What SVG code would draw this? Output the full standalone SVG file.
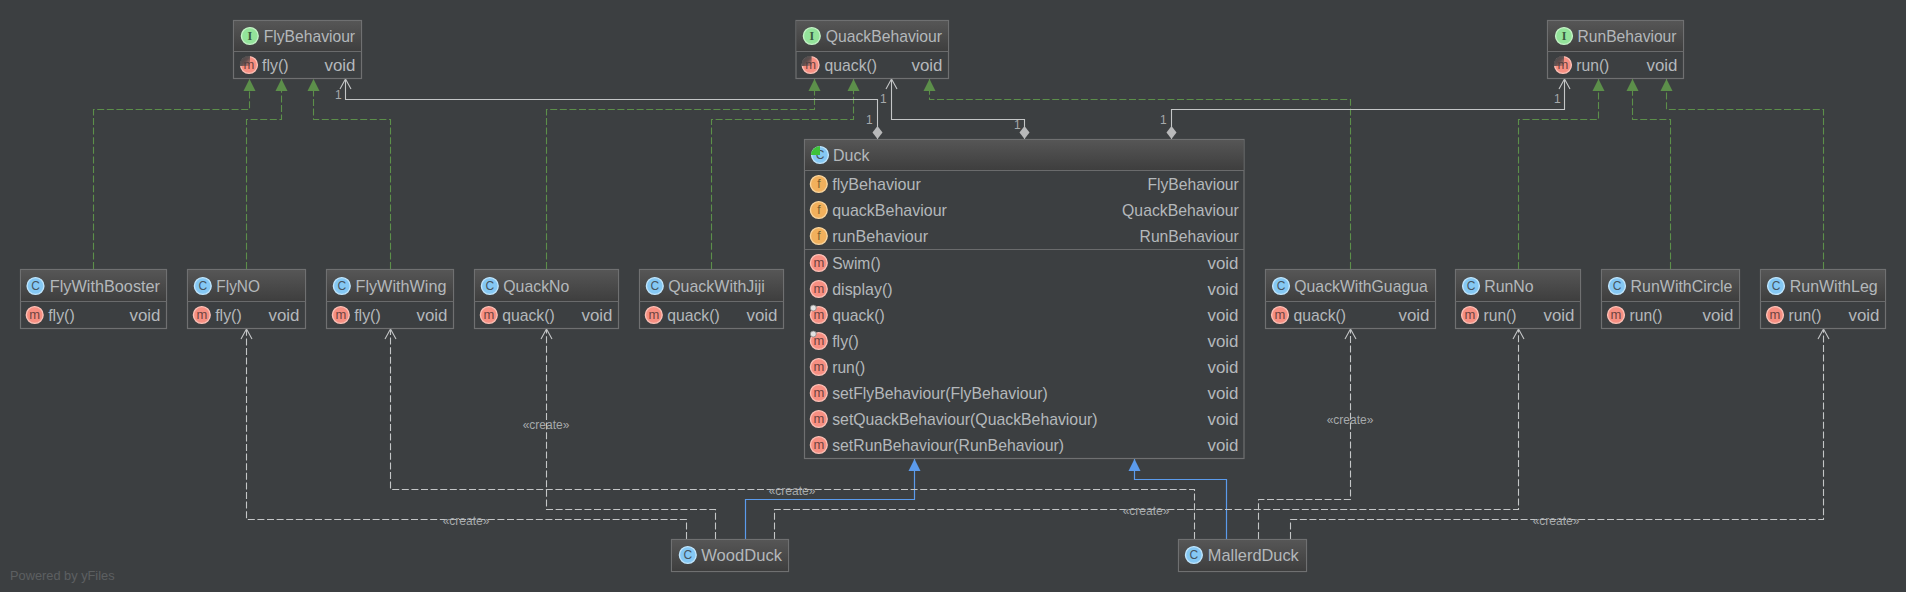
<svg xmlns="http://www.w3.org/2000/svg" width="1906" height="592" viewBox="0 0 1906 592">
<style>
text{font-family:"Liberation Sans",Arial,sans-serif}
.box{fill:#3c3f41;stroke:#6f7071;stroke-width:1.2}
.hd{fill:url(#hg)}
.div{stroke:#6a6b6c;stroke-width:1.2;fill:none}
.t{font-size:15.7px;fill:#b4b8bb}
.r{font-size:15.7px;fill:#b4b8bb;text-anchor:end}
.ic{stroke-width:1.4}
.I{fill:#93e39a;stroke:#c4f2c6}.C{fill:#85c8f4;stroke:#c0e5fc}.M{fill:#f78f82;stroke:#fcc0b6}.F{fill:#f1b05c;stroke:#f9d6a0}
.il{font-size:12px;text-anchor:middle}
.lI{fill:#3a5a40;font-family:"Liberation Serif",serif;font-weight:bold}.lC{fill:#475560}.lM{fill:#6e4440;font-size:13px}.lF{fill:#7a6030}
.ab{fill:url(#wg)}
.ov{fill:#e2e2e2;stroke:#7a7a7a;stroke-width:.7}
.impl,.real,.cre,.ext{fill:none;stroke-width:1.1}
.impl{stroke:#5c8f4a;stroke-dasharray:7 2.6;marker-end:url(#tg)}
.real{stroke:#c4c6c7;marker-end:url(#oa);marker-start:url(#dm)}
.cre{stroke:#c4c6c7;stroke-dasharray:7 2.6;marker-end:url(#oa)}
.ext{stroke:#5b9bec;stroke-width:1.2;marker-end:url(#tb)}
.lb{font-size:12px;fill:#a6a9ab}
.mid{text-anchor:middle}
</style>
<defs>
<linearGradient id="hg" x1="0" y1="0" x2="0" y2="1"><stop offset="0" stop-color="#565656"/><stop offset="1" stop-color="#3e3e3e"/></linearGradient>
<linearGradient id="wg" x1="0" y1="0" x2="1" y2="1"><stop offset="0" stop-color="#3c3f41"/><stop offset=".55" stop-color="#3c3f41" stop-opacity=".8"/><stop offset="1" stop-color="#3c3f41" stop-opacity=".15"/></linearGradient>
<marker id="tg" markerUnits="userSpaceOnUse" markerWidth="14" markerHeight="14" viewBox="0 0 14 14" refX="13" refY="7" orient="auto"><path d="M1 1 L13 7 L1 13Z" fill="#5c8f4a"/></marker>
<marker id="tb" markerUnits="userSpaceOnUse" markerWidth="14" markerHeight="14" viewBox="0 0 14 14" refX="13" refY="7" orient="auto"><path d="M1 1 L13 7 L1 13Z" fill="#5b9bec"/></marker>
<marker id="oa" markerUnits="userSpaceOnUse" markerWidth="12" markerHeight="14" viewBox="0 0 12 14" refX="11" refY="7" orient="auto"><path d="M1 1.5 L11 7 L1 12.5" fill="none" stroke="#c4c6c7" stroke-width="1.1"/></marker>
<marker id="dm" markerUnits="userSpaceOnUse" markerWidth="15" markerHeight="12" viewBox="0 0 15 12" refX="0.5" refY="6" orient="auto"><path d="M0.5 6 L7 1 L13.5 6 L7 11Z" fill="#b8b9ba"/></marker>
<g id="iI"><circle class="ic I" r="8.4"/><text class="il lI" y="4.4">I</text></g>
<g id="iC"><circle class="ic C" r="8.4"/><text class="il lC" y="4.4">C</text></g>
<g id="iM"><circle class="ic M" r="8.4"/><text class="il lM" y="4">m</text></g>
<g id="iF"><circle class="ic F" r="8.4"/><text class="il lF" y="4.4">f</text></g>
<path id="wedge" d="M1 1 L1 -9.2 A9.2 9.2 0 0 0 -9.2 1Z"/>
</defs>
<rect width="1906" height="592" fill="#3c3f41"/>
<text x="10" y="580" font-size="12.8" fill="#5c5f61">Powered by yFiles</text>

<g id="connectors">
<path class="impl" d="M93.5 269V109.5H249.5V79"/>
<path class="impl" d="M246.5 269V119.5H281.5V79"/>
<path class="impl" d="M390.5 269V119.5H313.5V79"/>
<path class="impl" d="M546.5 269V109.5H814.5V79"/>
<path class="impl" d="M711.5 269V119.5H853.5V79"/>
<path class="impl" d="M1350.5 269V99.5H929.5V79"/>
<path class="impl" d="M1518.5 269V119.5H1598.5V79"/>
<path class="impl" d="M1670.5 269V119.5H1632.5V79"/>
<path class="impl" d="M1823.5 269V109.5H1666.5V79"/>
<path class="real" d="M877.5 139V99.5H345.5V79"/>
<path class="real" d="M1024.5 139V119.5H891.5V79"/>
<path class="real" d="M1171.5 139V109.5H1564.5V79"/>
<path class="ext" d="M745.5 539V499.5H914.5V459"/>
<path class="ext" d="M1226.5 539V479.5H1134.5V459"/>
<path class="cre" d="M686.5 539V519.5H246.5V329"/>
<path class="cre" d="M715.5 539V509.5H546.5V329"/>
<path class="cre" d="M774.5 539V509.5H1518.5V329"/>
<path class="cre" d="M1194.5 539V489.5H390.5V329"/>
<path class="cre" d="M1258.5 539V499.5H1350.5V329"/>
<path class="cre" d="M1290.5 539V519.5H1823.5V329"/>
<g class="lb">
<text class="lb" x="335" y="99">1</text>
<text class="lb" x="866" y="124">1</text>
<text class="lb" x="880" y="103">1</text>
<text class="lb" x="1014" y="129">1</text>
<text class="lb" x="1160" y="124">1</text>
<text class="lb" x="1554" y="103">1</text>
<text class="lb mid" x="466" y="525">«create»</text>
<text class="lb mid" x="546" y="429">«create»</text>
<text class="lb mid" x="792" y="495">«create»</text>
<text class="lb mid" x="1146" y="515">«create»</text>
<text class="lb mid" x="1350" y="424">«create»</text>
<text class="lb mid" x="1556" y="525">«create»</text>
</g>
</g>

<g id="FlyBehaviour">
<rect class="box" x="233.5" y="20.5" width="128" height="58"/><rect class="hd" x="234" y="21" width="127" height="30.5"/><path class="div" d="M233.5 51.5H361.5"/>
<use href="#iI" x="249.8" y="36"/><text class="t" x="263.7" y="41.5" textLength="91.4" lengthAdjust="spacingAndGlyphs">FlyBehaviour</text>
<use href="#iM" x="249" y="65"/><use href="#wedge" class="ab" x="249" y="65"/><text class="t" x="262" y="70.5" textLength="26.5" lengthAdjust="spacingAndGlyphs">fly()</text><text class="r" x="355.5" y="70.5" textLength="31" lengthAdjust="spacingAndGlyphs">void</text>
</g>
<g id="QuackBehaviour">
<rect class="box" x="796" y="20.5" width="152.5" height="58"/><rect class="hd" x="796.5" y="21" width="151.5" height="30.5"/><path class="div" d="M796 51.5H948.5"/>
<use href="#iI" x="811.8" y="36"/><text class="t" x="825.7" y="41.5" textLength="116.3" lengthAdjust="spacingAndGlyphs">QuackBehaviour</text>
<use href="#iM" x="810.6" y="65"/><use href="#wedge" class="ab" x="810.6" y="65"/><text class="t" x="824.5" y="70.5" textLength="52.5" lengthAdjust="spacingAndGlyphs">quack()</text><text class="r" x="942.5" y="70.5" textLength="31" lengthAdjust="spacingAndGlyphs">void</text>
</g>
<g id="RunBehaviour">
<rect class="box" x="1547.5" y="20.5" width="136" height="58"/><rect class="hd" x="1548" y="21" width="135" height="30.5"/><path class="div" d="M1547.5 51.5H1683.5"/>
<use href="#iI" x="1564" y="36"/><text class="t" x="1577.5" y="41.5" textLength="99" lengthAdjust="spacingAndGlyphs">RunBehaviour</text>
<use href="#iM" x="1563" y="65"/><use href="#wedge" class="ab" x="1563" y="65"/><text class="t" x="1576.3" y="70.5" textLength="33" lengthAdjust="spacingAndGlyphs">run()</text><text class="r" x="1677.5" y="70.5" textLength="31" lengthAdjust="spacingAndGlyphs">void</text>
</g>

<g id="FlyWithBooster">
<rect class="box" x="20.5" y="269.5" width="146" height="59"/><rect class="hd" x="21" y="270" width="145" height="31"/><path class="div" d="M20.5 301.5H166.5"/>
<use href="#iC" x="35.5" y="286"/><text class="t" x="49.8" y="291.5" textLength="110.2" lengthAdjust="spacingAndGlyphs">FlyWithBooster</text>
<use href="#iM" x="34.7" y="315"/><text class="t" x="48.2" y="320.5" textLength="26.5" lengthAdjust="spacingAndGlyphs">fly()</text><text class="r" x="160.5" y="320.5" textLength="31" lengthAdjust="spacingAndGlyphs">void</text>
</g>
<g id="FlyNO">
<rect class="box" x="187.5" y="269.5" width="118" height="59"/><rect class="hd" x="188" y="270" width="117" height="31"/><path class="div" d="M187.5 301.5H305.5"/>
<use href="#iC" x="202.8" y="286"/><text class="t" x="216.3" y="291.5" textLength="43.7" lengthAdjust="spacingAndGlyphs">FlyNO</text>
<use href="#iM" x="201.8" y="315"/><text class="t" x="215.2" y="320.5" textLength="26.5" lengthAdjust="spacingAndGlyphs">fly()</text><text class="r" x="299.5" y="320.5" textLength="31" lengthAdjust="spacingAndGlyphs">void</text>
</g>
<g id="FlyWithWing">
<rect class="box" x="326.5" y="269.5" width="127" height="59"/><rect class="hd" x="327" y="270" width="126" height="31"/><path class="div" d="M326.5 301.5H453.5"/>
<use href="#iC" x="341.8" y="286"/><text class="t" x="355.5" y="291.5" textLength="91" lengthAdjust="spacingAndGlyphs">FlyWithWing</text>
<use href="#iM" x="340.8" y="315"/><text class="t" x="354.2" y="320.5" textLength="26.5" lengthAdjust="spacingAndGlyphs">fly()</text><text class="r" x="447.5" y="320.5" textLength="31" lengthAdjust="spacingAndGlyphs">void</text>
</g>
<g id="QuackNo">
<rect class="box" x="474.5" y="269.5" width="144" height="59"/><rect class="hd" x="475" y="270" width="143" height="31"/><path class="div" d="M474.5 301.5H618.5"/>
<use href="#iC" x="489.8" y="286"/><text class="t" x="503.3" y="291.5" textLength="66" lengthAdjust="spacingAndGlyphs">QuackNo</text>
<use href="#iM" x="488.8" y="315"/><text class="t" x="502.2" y="320.5" textLength="52.5" lengthAdjust="spacingAndGlyphs">quack()</text><text class="r" x="612.5" y="320.5" textLength="31" lengthAdjust="spacingAndGlyphs">void</text>
</g>
<g id="QuackWithJiji">
<rect class="box" x="639.5" y="269.5" width="144" height="59"/><rect class="hd" x="640" y="270" width="143" height="31"/><path class="div" d="M639.5 301.5H783.5"/>
<use href="#iC" x="654.8" y="286"/><text class="t" x="668.2" y="291.5" textLength="96.7" lengthAdjust="spacingAndGlyphs">QuackWithJiji</text>
<use href="#iM" x="653.8" y="315"/><text class="t" x="667.2" y="320.5" textLength="52.5" lengthAdjust="spacingAndGlyphs">quack()</text><text class="r" x="777.5" y="320.5" textLength="31" lengthAdjust="spacingAndGlyphs">void</text>
</g>

<g id="Duck">
<rect class="box" x="804.5" y="139.5" width="439.5" height="319"/><rect class="hd" x="805" y="140" width="438.5" height="30"/><path class="div" d="M804.5 170.5H1244M804.5 249.5H1244"/>
<use href="#iC" x="820" y="155"/><path d="M820 155 L820 146 A9 9 0 0 0 811 155Z" fill="#3fc23a"/><text class="t" x="833" y="160.8" textLength="36.4" lengthAdjust="spacingAndGlyphs">Duck</text>
<use href="#iF" x="818.8" y="184"/><text class="t" x="832.2" y="190" textLength="88.6" lengthAdjust="spacingAndGlyphs">flyBehaviour</text><text class="r" x="1238.8" y="190" textLength="91.4" lengthAdjust="spacingAndGlyphs">FlyBehaviour</text>
<use href="#iF" x="818.8" y="210"/><text class="t" x="832.2" y="216" textLength="114.7" lengthAdjust="spacingAndGlyphs">quackBehaviour</text><text class="r" x="1238.8" y="216" textLength="116.7" lengthAdjust="spacingAndGlyphs">QuackBehaviour</text>
<use href="#iF" x="818.8" y="236"/><text class="t" x="832.2" y="242" textLength="95.9" lengthAdjust="spacingAndGlyphs">runBehaviour</text><text class="r" x="1238.8" y="242" textLength="99.2" lengthAdjust="spacingAndGlyphs">RunBehaviour</text>
<use href="#iM" x="818.8" y="263"/><text class="t" x="832.2" y="269" textLength="48.6" lengthAdjust="spacingAndGlyphs">Swim()</text><text class="r" x="1238.5" y="269" textLength="31" lengthAdjust="spacingAndGlyphs">void</text>
<use href="#iM" x="818.8" y="289"/><text class="t" x="832.2" y="295" textLength="60.4" lengthAdjust="spacingAndGlyphs">display()</text><text class="r" x="1238.5" y="295" textLength="31" lengthAdjust="spacingAndGlyphs">void</text>
<use href="#iM" x="818.8" y="315"/><circle class="ov" cx="813.3" cy="308" r="3"/><text class="t" x="832.2" y="321" textLength="52.5" lengthAdjust="spacingAndGlyphs">quack()</text><text class="r" x="1238.5" y="321" textLength="31" lengthAdjust="spacingAndGlyphs">void</text>
<use href="#iM" x="818.8" y="341"/><circle class="ov" cx="813.3" cy="334" r="3"/><text class="t" x="832.2" y="347" textLength="26.5" lengthAdjust="spacingAndGlyphs">fly()</text><text class="r" x="1238.5" y="347" textLength="31" lengthAdjust="spacingAndGlyphs">void</text>
<use href="#iM" x="818.8" y="367"/><text class="t" x="832.2" y="373" textLength="33" lengthAdjust="spacingAndGlyphs">run()</text><text class="r" x="1238.5" y="373" textLength="31" lengthAdjust="spacingAndGlyphs">void</text>
<use href="#iM" x="818.8" y="393"/><text class="t" x="832.2" y="399" textLength="215.5" lengthAdjust="spacingAndGlyphs">setFlyBehaviour(FlyBehaviour)</text><text class="r" x="1238.5" y="399" textLength="31" lengthAdjust="spacingAndGlyphs">void</text>
<use href="#iM" x="818.8" y="419"/><text class="t" x="832.2" y="425" textLength="265.3" lengthAdjust="spacingAndGlyphs">setQuackBehaviour(QuackBehaviour)</text><text class="r" x="1238.5" y="425" textLength="31" lengthAdjust="spacingAndGlyphs">void</text>
<use href="#iM" x="818.8" y="445"/><text class="t" x="832.2" y="451" textLength="231.8" lengthAdjust="spacingAndGlyphs">setRunBehaviour(RunBehaviour)</text><text class="r" x="1238.5" y="451" textLength="31" lengthAdjust="spacingAndGlyphs">void</text>
</g>

<g id="QuackWithGuagua">
<rect class="box" x="1265.5" y="269.5" width="170" height="59"/><rect class="hd" x="1266" y="270" width="169" height="31"/><path class="div" d="M1265.5 301.5H1435.5"/>
<use href="#iC" x="1281" y="286"/><text class="t" x="1294.3" y="291.5" textLength="133.5" lengthAdjust="spacingAndGlyphs">QuackWithGuagua</text>
<use href="#iM" x="1280" y="315"/><text class="t" x="1293.5" y="320.5" textLength="52.5" lengthAdjust="spacingAndGlyphs">quack()</text><text class="r" x="1429.5" y="320.5" textLength="31" lengthAdjust="spacingAndGlyphs">void</text>
</g>
<g id="RunNo">
<rect class="box" x="1455.5" y="269.5" width="125" height="59"/><rect class="hd" x="1456" y="270" width="124" height="31"/><path class="div" d="M1455.5 301.5H1580.5"/>
<use href="#iC" x="1471" y="286"/><text class="t" x="1484.2" y="291.5" textLength="49.5" lengthAdjust="spacingAndGlyphs">RunNo</text>
<use href="#iM" x="1470" y="315"/><text class="t" x="1483.5" y="320.5" textLength="33" lengthAdjust="spacingAndGlyphs">run()</text><text class="r" x="1574.5" y="320.5" textLength="31" lengthAdjust="spacingAndGlyphs">void</text>
</g>
<g id="RunWithCircle">
<rect class="box" x="1601.5" y="269.5" width="138" height="59"/><rect class="hd" x="1602" y="270" width="137" height="31"/><path class="div" d="M1601.5 301.5H1739.5"/>
<use href="#iC" x="1617" y="286"/><text class="t" x="1630.6" y="291.5" textLength="101.9" lengthAdjust="spacingAndGlyphs">RunWithCircle</text>
<use href="#iM" x="1616" y="315"/><text class="t" x="1629.5" y="320.5" textLength="33" lengthAdjust="spacingAndGlyphs">run()</text><text class="r" x="1733.5" y="320.5" textLength="31" lengthAdjust="spacingAndGlyphs">void</text>
</g>
<g id="RunWithLeg">
<rect class="box" x="1760.5" y="269.5" width="125" height="59"/><rect class="hd" x="1761" y="270" width="124" height="31"/><path class="div" d="M1760.5 301.5H1885.5"/>
<use href="#iC" x="1776" y="286"/><text class="t" x="1789.7" y="291.5" textLength="88" lengthAdjust="spacingAndGlyphs">RunWithLeg</text>
<use href="#iM" x="1775" y="315"/><text class="t" x="1788.5" y="320.5" textLength="33" lengthAdjust="spacingAndGlyphs">run()</text><text class="r" x="1879.5" y="320.5" textLength="31" lengthAdjust="spacingAndGlyphs">void</text>
</g>
<g id="WoodDuck">
<rect class="box" x="671.5" y="539.5" width="117" height="32"/><rect class="hd" x="672" y="540" width="116" height="31"/>
<use href="#iC" x="687.8" y="555"/><text class="t" x="701.2" y="561" textLength="80.8" lengthAdjust="spacingAndGlyphs">WoodDuck</text>
</g>
<g id="MallerdDuck">
<rect class="box" x="1178.5" y="539.5" width="128" height="32"/><rect class="hd" x="1179" y="540" width="127" height="31"/>
<use href="#iC" x="1193.9" y="555"/><text class="t" x="1207.8" y="561" textLength="91" lengthAdjust="spacingAndGlyphs">MallerdDuck</text>
</g>
</svg>
